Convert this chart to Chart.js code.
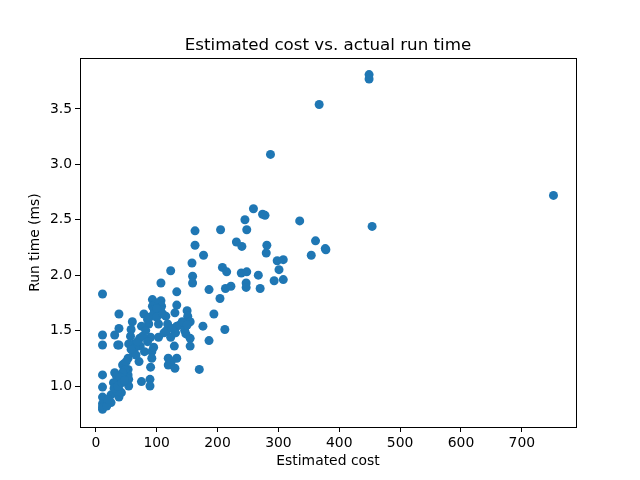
<!DOCTYPE html>
<html>
<head>
<meta charset="utf-8">
<script src="https://cdn.jsdelivr.net/npm/chart.js@4"></script>
<style>
  html, body { margin: 0; padding: 0; background: #fff; }
</style>
</head>
<body>
<canvas id="myChart" width="640" height="480"></canvas>
<script>
// data
var costs = [
  449, 449, 367, 287, 752, 454, 259, 245, 248, 274, 278, 335, 163, 205, 163, 231,
  240, 281, 280, 361, 354, 378, 377, 177, 158, 208, 215, 298, 308, 301, 123, 239,
  248, 267, 247, 247, 159, 159, 107, 293, 308, 270, 186, 213, 222, 133, 204, 11,
  93, 107, 99, 93, 108, 133, 38, 79, 115, 106, 96, 130, 150, 194, 60, 151,
  155, 103, 87, 75, 176, 212, 38, 31, 11, 11, 36, 38, 58, 57, 54, 62,
  72, 73, 80, 90, 103, 112, 123, 133, 131, 146, 148, 155, 155, 129, 186, 92,
  92, 71, 90, 53, 46, 44, 119, 119, 133, 130, 124, 170, 53, 53, 54, 54,
  75, 89, 89, 31, 34, 11, 11, 11, 11, 11, 11, 25, 25, 38, 38, 38,
  29, 18, 65, 68, 77, 82, 85, 88, 95, 100, 100, 110, 118, 116, 125, 138,
  142, 62, 66, 58, 50, 48, 44, 40, 42, 35, 30, 20, 85, 95, 150, 36,
  43, 47
];
var runTimes = [
  3.81, 3.77, 3.54, 3.09, 2.72, 2.44, 2.60, 2.50, 2.41, 2.55, 2.54, 2.49, 2.40, 2.41, 2.27, 2.30,
  2.26, 2.27, 2.20, 2.31, 2.18, 2.23, 2.24, 2.18, 2.11, 2.07, 2.03, 2.13, 2.14, 2.05, 2.04, 2.02,
  2.03, 2.00, 1.93, 1.89, 1.99, 1.93, 1.93, 1.95, 1.96, 1.88, 1.87, 1.88, 1.90, 1.85, 1.79, 1.83,
  1.78, 1.77, 1.75, 1.72, 1.72, 1.73, 1.65, 1.65, 1.63, 1.69, 1.69, 1.66, 1.68, 1.65, 1.58, 1.63,
  1.58, 1.56, 1.56, 1.54, 1.54, 1.51, 1.52, 1.46, 1.46, 1.37, 1.37, 1.37, 1.51, 1.45, 1.38, 1.38,
  1.43, 1.36, 1.31, 1.44, 1.44, 1.48, 1.44, 1.54, 1.48, 1.50, 1.47, 1.43, 1.36, 1.36, 1.41, 1.31,
  1.25, 1.22, 1.17, 1.25, 1.20, 1.19, 1.25, 1.19, 1.25, 1.16, 1.22, 1.15, 1.15, 1.10, 1.06, 1.00,
  1.04, 1.06, 1.00, 1.12, 1.09, 1.10, 0.99, 0.90, 0.84, 0.79, 0.81, 0.92, 0.85, 1.03, 0.97, 0.90,
  1.03, 0.82, 1.35, 1.40, 1.45, 1.50, 1.60, 1.62, 1.65, 1.70, 1.62, 1.65, 1.56, 1.50, 1.52, 1.55,
  1.58, 1.30, 1.28, 1.33, 1.22, 1.15, 1.12, 1.08, 0.94, 0.95, 0.98, 0.88, 1.40, 1.35, 1.55, 1.00,
  1.03, 1.05
];
var xTicks = [0, 100, 200, 300, 400, 500, 600, 700];
var yTicks = [1.0, 1.5, 2.0, 2.5, 3.0, 3.5];
var chartTitle = 'Estimated cost vs. actual run time';

var points = costs.map(function (c, i) { return { x: c, y: runTimes[i] }; });

var font = 'DejaVu Sans';

// matplotlib draws a box round the axes and centres the title over them
var frame = {
    id: 'frame',
    afterDraw: function (chart) {
        var a = chart.chartArea, c = chart.ctx;
        c.save();
        c.strokeStyle = '#000';
        c.lineWidth = 1;
        c.strokeRect(a.left + 0.5, a.top + 0.5, a.right - a.left, a.bottom - a.top);
        c.fillStyle = '#000';
        c.font = '16.7px "' + font + '"';
        c.textAlign = 'center';
        c.textBaseline = 'alphabetic';
        c.fillText(chartTitle, (a.left + a.right) / 2, a.top - 8);
        c.restore();
    }
};

var ctx = document.getElementById('myChart').getContext('2d');
var chart = new Chart(ctx, {
    type: 'scatter',
    data: {
        datasets: [{
            data: points,
            backgroundColor: '#1f77b4',
            borderColor: '#1f77b4',
            borderWidth: 0,
            pointRadius: 4.5,
            pointHoverRadius: 4.5
        }]
    },
    options: {
        responsive: false,
        animation: false,
        layout: { padding: { left: 0, right: 64, top: 58, bottom: 0 } },
        plugins: {
            legend: { display: false },
            tooltip: { enabled: false },
            title: { display: false }
        },
        scales: {
            x: {
                type: 'linear',
                min: -26,
                max: 789,
                afterBuildTicks: function (s) { s.ticks = xTicks.map(function (v) { return { value: v }; }); },
                afterFit: function (s) { s.height = 53; },
                grid: { drawOnChartArea: false, drawTicks: true, tickLength: 5, tickColor: '#000' },
                border: { display: true, color: '#000' },
                ticks: { color: '#000', font: { family: font, size: 13.9 }, padding: 3, maxRotation: 0 },
                title: {
                    display: true,
                    text: 'Estimated cost',
                    color: '#000',
                    font: { family: font, size: 13.9 },
                    padding: { top: 0, bottom: 10 }
                }
            },
            y: {
                type: 'linear',
                min: 0.63,
                max: 3.96,
                afterBuildTicks: function (s) { s.ticks = yTicks.map(function (v) { return { value: v }; }); },
                afterFit: function (s) { s.width = 80; },
                grid: { drawOnChartArea: false, drawTicks: true, tickLength: 5, tickColor: '#000' },
                border: { display: true, color: '#000' },
                ticks: {
                    color: '#000',
                    font: { family: font, size: 13.9 },
                    padding: 3,
                    callback: function (v) { return v.toFixed(1); }
                },
                title: {
                    display: true,
                    text: 'Run time (ms)',
                    color: '#000',
                    font: { family: font, size: 13.9 },
                    padding: { top: 27, bottom: 0 }
                }
            }
        }
    },
    plugins: [frame]
});
</script>
</body>
</html>
